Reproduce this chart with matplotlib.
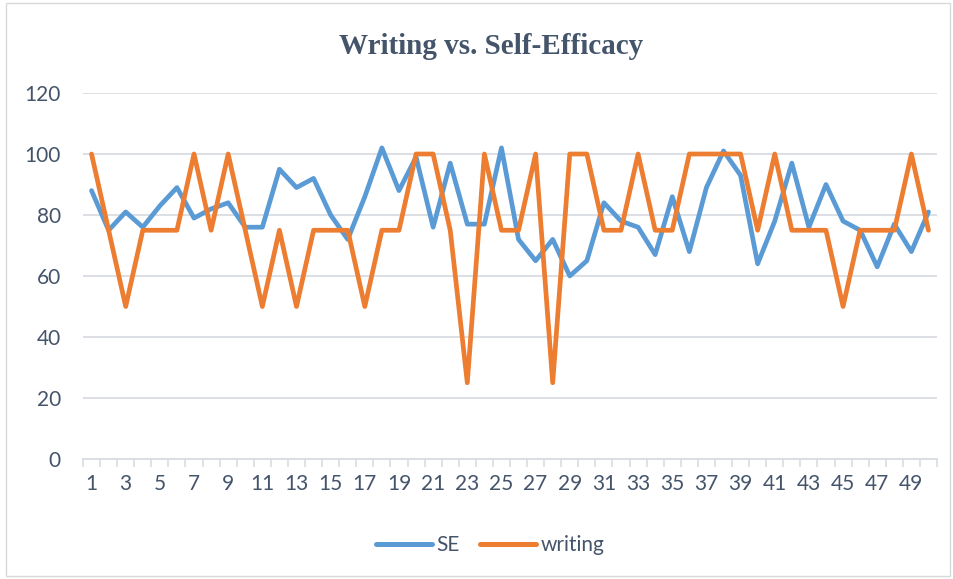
import matplotlib
matplotlib.use("Agg")
import matplotlib.pyplot as plt
from matplotlib.patches import Rectangle
from matplotlib.lines import Line2D

categories = list(range(1, 51))
se = [88, 75, 81, 76, 83, 89, 79, 82, 84, 76,
      76, 95, 89, 92, 80, 72, 86, 102, 88, 99,
      76, 97, 77, 77, 102, 72, 65, 72, 60, 65,
      84, 78, 76, 67, 86, 68, 89, 101, 93, 64,
      78, 97, 76, 90, 78, 75, 63, 77, 68, 81]
writing = [100, 75, 50, 75, 75, 75, 100, 75, 100, 75,
           50, 75, 50, 75, 75, 75, 50, 75, 75, 100,
           100, 75, 25, 100, 75, 75, 100, 25, 100, 100,
           75, 75, 100, 75, 75, 100, 100, 100, 100, 75,
           100, 75, 75, 75, 50, 75, 75, 75, 100, 75]
yticks = [0, 20, 40, 60, 80, 100, 120]
xticklabels = [str(c) for c in categories[::2]]

blue = "#5B9BD5"
orange = "#ED7D31"
textc = "#44546A"
gridc = "#D9DDE3"

fig = plt.figure(figsize=(9.54, 5.79), dpi=100)
ax = fig.add_axes([83/954, 120/579, 854/954, 366/579])

ax.plot(categories, se, color=blue, lw=3.4, solid_joinstyle="round", solid_capstyle="round", label="SE")
ax.plot(categories, writing, color=orange, lw=3.4, solid_joinstyle="round", solid_capstyle="round", label="writing")

ax.set_xlim(0.5, 50.5)
ax.set_ylim(0, 120)
ax.set_yticks(yticks)
ax.set_yticklabels([str(v) for v in yticks])
ax.set_xticks(categories[::2])
ax.set_xticklabels(xticklabels)
ax.set_xticks([c + 0.5 for c in [0] + categories], minor=True)

ax.grid(axis="y", color=gridc, lw=1.3)
ax.set_axisbelow(True)
for s in ["top", "right", "left"]:
    ax.spines[s].set_visible(False)
ax.spines["bottom"].set_color(gridc)
ax.spines["bottom"].set_linewidth(1.3)

ax.tick_params(axis="y", length=0, pad=16, labelsize=15, labelcolor=textc)
ax.tick_params(axis="x", which="major", length=0, pad=11, labelsize=15, labelcolor=textc)
ax.tick_params(axis="x", which="minor", length=6, width=1.2, color=gridc, direction="out")
for lab in ax.get_xticklabels() + ax.get_yticklabels():
    lab.set_fontfamily("Lato")

fig.text(491/954, 1 - 46/579, "Writing vs. Self-Efficacy", ha="center", va="center",
         fontsize=21, fontweight="bold", family="Liberation Serif", color=textc)

handles = [Line2D([], [], color=blue, lw=3.6, solid_capstyle="round"),
           Line2D([], [], color=orange, lw=3.6, solid_capstyle="round")]
leg = fig.legend(handles, ["SE", "writing"], loc="center", bbox_to_anchor=(490/954, 1 - 545/579),
                 ncol=2, frameon=False, handlelength=2.7, handletextpad=0.2, columnspacing=1.0,
                 prop={"family": "Lato", "size": 15})
for t in leg.get_texts():
    t.set_color(textc)

fig.patches.append(Rectangle((6/954, 3/579), 944/954, 573/579, transform=fig.transFigure,
                             fill=False, edgecolor="#D9D9D9", lw=1.0))

fig.savefig("out.png", dpi=100, facecolor="white")
